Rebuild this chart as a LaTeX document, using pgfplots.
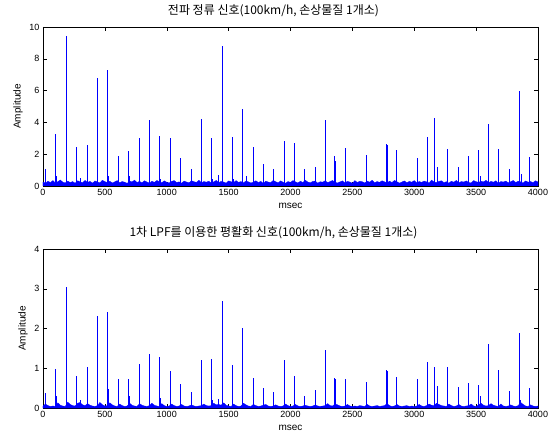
\documentclass[border=0pt]{standalone}
\usepackage{pgfplots}
\pgfplotsset{compat=1.18}
\usepackage{fontspec}
\setmainfont{Liberation Sans}
\newfontfamily\kr{Noto Sans CJK KR}
\pgfplotsset{
  mstyle/.style={
    scale only axis, width=495pt, height=159pt,
    xmin=0, xmax=4000, xtick={0,500,...,4000},
    tick align=inside, major tick length=4pt,
    /pgf/number format/assume math mode=true,
    /pgf/number format/1000 sep={},
    scaled ticks=false,
    tick label style={font=\fontsize{9}{10}\selectfont},
    label style={font=\fontsize{10}{12}\selectfont},
    title style={font=\kr\fontsize{12}{14}\selectfont, yshift=1pt, xshift=-17pt},
    xlabel={msec}, ylabel={Amplitude},
    axis line style={black, line width=0.5pt},
    every tick/.style={black, line width=0.5pt},
  }
}
\begin{document}
\begin{tikzpicture}
\begin{axis}[mstyle, at={(0pt,0pt)}, ymin=0, ymax=10, ytick={0,2,...,10},
  title={전파 정류 신호(100km/h, 손상물질 1개소)}]
\addplot[draw=blue, fill=blue, line width=0.3pt, mark=none] coordinates {
(0,0.25)(20,0.18)(40,0.3)(60,0.22)(80,0.34)(100,0.2)(120,0.27)(140,0.38)(160,0.24)(180,0.19)
(200,0.31)(220,0.22)(240,0.28)(260,0.17)(280,0.33)(300,0.26)(320,0.21)(340,0.35)(360,0.23)(380,0.29)
(400,0.18)(420,0.32)(440,0.25)(460,0.2)(480,0.36)(500,0.27)(520,0.22)(540,0.3)(560,0.19)(580,0.26)
(600,0.34)(620,0.21)(640,0.28)(660,0.24)(680,0.17)(700,0.31)(720,0.26)(740,0.37)(760,0.22)(780,0.29)
(800,0.2)(820,0.33)(840,0.25)(860,0.18)(880,0.3)(900,0.23)(920,0.35)(940,0.27)(960,0.21)(980,0.32)
(1000,0.24)(1020,0.19)(1040,0.29)(1060,0.34)(1080,0.22)(1100,0.26)(1120,0.18)(1140,0.31)(1160,0.25)(1180,0.2)
(1200,0.33)(1220,0.27)(1240,0.23)(1260,0.36)(1280,0.2)(1300,0.28)(1320,0.24)(1340,0.3)(1360,0.19)(1380,0.26)
(1400,0.35)(1420,0.22)(1440,0.29)(1460,0.25)(1480,0.18)(1500,0.32)(1520,0.27)(1540,0.21)(1560,0.34)(1580,0.23)
(1600,0.28)(1620,0.2)(1640,0.31)(1660,0.26)(1680,0.19)(1700,0.24)(1720,0.33)(1740,0.22)(1760,0.29)(1780,0.17)
(1800,0.3)(1820,0.25)(1840,0.21)(1860,0.35)(1880,0.27)(1900,0.2)(1920,0.32)(1940,0.24)(1960,0.18)(1980,0.28)
(2000,0.23)(2020,0.34)(2040,0.26)(2060,0.19)(2080,0.3)(2100,0.22)(2120,0.36)(2140,0.25)(2160,0.2)(2180,0.29)
(2200,0.31)(2220,0.18)(2240,0.27)(2260,0.24)(2280,0.33)(2300,0.21)(2320,0.28)(2340,0.35)(2360,0.23)(2380,0.19)
(2400,0.26)(2420,0.32)(2440,0.2)(2460,0.29)(2480,0.25)(2500,0.17)(2520,0.34)(2540,0.22)(2560,0.3)(2580,0.27)
(2600,0.19)(2620,0.31)(2640,0.24)(2660,0.36)(2680,0.21)(2700,0.28)(2720,0.23)(2740,0.33)(2760,0.26)(2780,0.2)
(2800,0.3)(2820,0.22)(2840,0.35)(2860,0.27)(2880,0.18)(2900,0.25)(2920,0.32)(2940,0.21)(2960,0.29)(2980,0.24)
(3000,0.34)(3020,0.2)(3040,0.28)(3060,0.23)(3080,0.31)(3100,0.26)(3120,0.19)(3140,0.37)(3160,0.25)(3180,0.22)
(3200,0.29)(3220,0.33)(3240,0.21)(3260,0.27)(3280,0.18)(3300,0.3)(3320,0.24)(3340,0.35)(3360,0.2)(3380,0.28)
(3400,0.25)(3420,0.32)(3440,0.22)(3460,0.19)(3480,0.34)(3500,0.27)(3520,0.23)(3540,0.3)(3560,0.26)(3580,0.36)
(3600,0.21)(3620,0.29)(3640,0.24)(3660,0.33)(3680,0.18)(3700,0.28)(3720,0.25)(3740,0.31)(3760,0.2)(3780,0.27)
(3800,0.35)(3820,0.22)(3840,0.3)(3860,0.26)(3880,0.19)(3900,0.32)(3920,0.24)(3940,0.28)(3960,0.21)(3980,0.33)(4000,0.25)
} \closedcycle;
\addplot[ycomb, draw=blue, line width=1pt, mark=none] coordinates {
(19,1.1)(105,3.25)(188,9.45)(272,2.45)(358,2.58)(441,6.77)(524,7.3)(608,1.89)(694,2.2)(777,3.02)
(861,4.17)(944,3.14)(1027,3.02)(1113,1.76)(1197,1.07)(1280,4.21)(1363,3.02)(1417,0.69)(1447,8.8)
(1533,3.06)(1616,4.86)(1642,0.6)(1699,2.45)(1778,0.85)(1783,1.38)(1866,1.04)(1949,2.81)(2030,2.71)
(2113,1.07)(2199,1.19)(2283,4.15)(2358,1.89)(2366,1.57)(2444,2.39)(2613,1.95)(2775,2.64)(2780,2.6)
(2855,2.29)(3025,1.78)(3108,3.08)(3162,4.26)(3166,1.2)(3186,1.2)(3269,2.33)(3355,1.19)(3439,1.89)
(3517,2.24)(3522,1.19)(3532,0.65)(3600,3.9)(3683,2.33)(3767,1.04)(3847,5.97)(3853,0.7)(3865,0.75)(3931,1.84)
};
\addplot[ycomb, draw=blue, line width=0.8pt, mark=none] coordinates {
(107,0.6)(190,0.74)(300,0.5)(443,0.55)(526,0.6)(697,0.5)(700,0.65)(779,0.6)(863,0.5)(946,0.45)
(1030,0.45)(1282,0.4)(1365,0.45)(1449,0.55)(1535,0.45)(2285,0.4)(2447,0.45)(3110,0.45)(3602,0.45)(3849,0.5)
};
\end{axis}
\begin{axis}[mstyle, at={(0pt,-222pt)}, ymin=0, ymax=4, ytick={0,1,2,3,4},
  title={1차 LPF를 이용한 평활화 신호(100km/h, 손상물질 1개소)}]
\addplot[draw=blue, fill=blue, line width=0.3pt, mark=none] coordinates {
(0,0.05)(20,0.1)(40,0.06)(60,0.04)(80,0.05)(100,0.04)(120,0.13)(140,0.07)(160,0.05)(180,0.04)
(200,0.15)(220,0.09)(240,0.06)(260,0.05)(280,0.12)(300,0.14)(320,0.08)(340,0.06)(360,0.11)(380,0.07)
(400,0.05)(420,0.04)(440,0.06)(460,0.14)(480,0.08)(500,0.05)(520,0.06)(540,0.13)(560,0.08)(580,0.05)
(600,0.04)(620,0.1)(640,0.06)(660,0.04)(680,0.05)(700,0.12)(720,0.07)(740,0.05)(760,0.04)(780,0.11)
(800,0.07)(820,0.05)(840,0.04)(860,0.06)(880,0.12)(900,0.07)(920,0.05)(940,0.04)(960,0.11)(980,0.06)
(1000,0.04)(1020,0.05)(1040,0.1)(1060,0.06)(1080,0.04)(1100,0.05)(1120,0.09)(1140,0.05)(1160,0.04)(1180,0.05)
(1200,0.08)(1220,0.05)(1240,0.04)(1260,0.05)(1280,0.06)(1300,0.1)(1320,0.06)(1340,0.05)(1360,0.06)(1380,0.12)
(1400,0.08)(1420,0.09)(1440,0.07)(1460,0.13)(1480,0.07)(1500,0.05)(1520,0.04)(1540,0.1)(1560,0.06)(1580,0.04)
(1600,0.05)(1620,0.12)(1640,0.08)(1660,0.05)(1680,0.04)(1700,0.09)(1720,0.06)(1740,0.04)(1760,0.05)(1780,0.07)
(1800,0.09)(1820,0.05)(1840,0.04)(1860,0.05)(1880,0.08)(1900,0.05)(1920,0.04)(1940,0.05)(1960,0.1)(1980,0.06)
(2000,0.04)(2020,0.05)(2040,0.09)(2060,0.05)(2080,0.04)(2100,0.05)(2120,0.07)(2140,0.05)(2160,0.04)(2180,0.05)
(2200,0.08)(2220,0.05)(2240,0.04)(2260,0.05)(2280,0.06)(2300,0.11)(2320,0.06)(2340,0.05)(2360,0.1)(2380,0.08)
(2400,0.05)(2420,0.04)(2440,0.05)(2460,0.09)(2480,0.05)(2500,0.04)(2520,0.05)(2540,0.04)(2560,0.06)(2580,0.05)
(2600,0.04)(2620,0.09)(2640,0.05)(2660,0.04)(2680,0.05)(2700,0.06)(2720,0.04)(2740,0.05)(2760,0.06)(2780,0.11)
(2800,0.06)(2820,0.04)(2840,0.05)(2860,0.09)(2880,0.05)(2900,0.04)(2920,0.05)(2940,0.06)(2960,0.04)(2980,0.05)
(3000,0.04)(3020,0.05)(3040,0.09)(3060,0.05)(3080,0.04)(3100,0.06)(3120,0.1)(3140,0.07)(3160,0.06)(3180,0.12)
(3200,0.09)(3220,0.06)(3240,0.05)(3260,0.04)(3280,0.1)(3300,0.06)(3320,0.04)(3340,0.05)(3360,0.09)(3380,0.05)
(3400,0.04)(3420,0.05)(3440,0.06)(3460,0.1)(3480,0.05)(3500,0.04)(3520,0.08)(3540,0.12)(3560,0.07)(3580,0.05)
(3600,0.06)(3620,0.11)(3640,0.07)(3660,0.05)(3680,0.04)(3700,0.1)(3720,0.05)(3740,0.04)(3760,0.05)(3780,0.08)
(3800,0.05)(3820,0.04)(3840,0.06)(3860,0.14)(3880,0.09)(3900,0.05)(3920,0.04)(3940,0.08)(3960,0.05)(3980,0.04)(4000,0.05)
} \closedcycle;
\addplot[ycomb, draw=blue, line width=1pt, mark=none] coordinates {
(19,0.37)(105,0.98)(188,3.05)(272,0.81)(358,1.04)(441,2.32)(524,2.41)(608,0.72)(694,0.72)(777,1.11)
(861,1.36)(944,1.28)(1027,0.92)(1113,0.6)(1197,0.4)(1280,1.21)(1363,1.23)(1417,0.22)(1447,2.68)
(1533,1.08)(1616,2.02)(1699,0.75)(1778,0.42)(1783,0.5)(1866,0.4)(1949,1.21)(2030,0.81)
(2113,0.31)(2199,0.46)(2283,1.46)(2358,0.76)(2366,0.74)(2444,0.72)(2613,0.66)(2775,0.96)(2780,0.94)
(2855,0.78)(3025,0.72)(3105,0.3)(3108,1.16)(3162,1.03)(3166,0.72)(3186,0.56)(3269,1.04)(3355,0.52)(3439,0.62)
(3517,0.58)(3522,0.37)(3532,0.3)(3600,1.62)(3683,0.95)(3767,0.44)(3847,1.88)(3853,0.57)(3862,0.2)(3931,0.51)
};
\addplot[ycomb, draw=blue, line width=0.8pt, mark=none] coordinates {
(107,0.3)(190,0.45)(300,0.2)(443,0.45)(527,0.47)(610,0.25)(697,0.3)(780,0.33)(863,0.33)(946,0.25)
(1370,0.2)(1450,0.25)(2285,0.22)(3602,0.2)
};
\end{axis}
\pgfresetboundingbox
\path (-43pt,-250pt) rectangle (511pt,186pt);
\end{tikzpicture}
\end{document}
